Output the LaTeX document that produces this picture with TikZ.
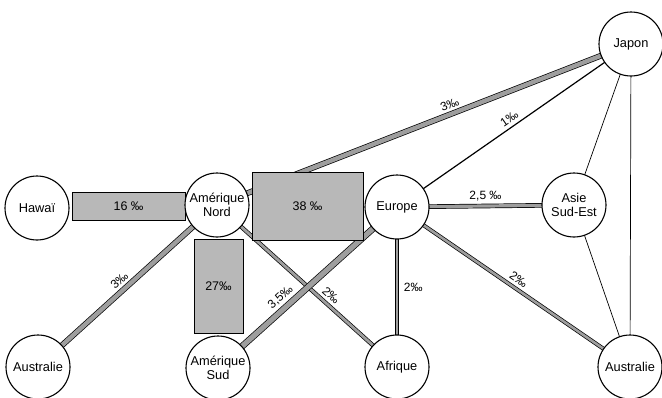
\documentclass[tikz,border=0pt]{standalone}
\usepackage{fontspec}
\setmainfont{Liberation Sans}
\begin{document}
\begin{tikzpicture}[x=1pt,y=1pt,
  region/.style={circle, draw=black, line width=1.1pt, fill=white, minimum size=64pt, inner sep=0pt, align=center, font=\fontsize{12.8}{14}\selectfont},
  band/.style={draw=black, line width=0.7pt, double=black!38, double distance=#1},
  flowbox/.style={draw=black, line width=0.7pt, fill=black!28, inner sep=0pt, font=\fontsize{12.5}{14}\selectfont},
  thinlink/.style={draw=black, line width=0.7pt},
  medlink/.style={draw=black, line width=1.2pt},
  lab/.style={font=\fontsize{12}{13}\selectfont, inner sep=1.5pt}]
\useasboundingbox (0,0) rectangle (662,-397);
\path (37,-208) coordinate (cH) (217,-205) coordinate (cAN) (397,-207) coordinate (cE)
      (574,-205) coordinate (cASE) (631,-44) coordinate (cJ) (38,-367) coordinate (cAUL)
      (218,-368) coordinate (cAS) (397,-367) coordinate (cAF) (630,-367) coordinate (cAUR);
% bands and lines
\draw[thinlink] (cJ) -- (cASE);
\draw[thinlink] (cJ) -- (cAUR);
\draw[thinlink] (cASE) -- (cAUR);
\draw[medlink] (cE) -- node[lab, sloped, above=2pt, pos=0.5] {1‰} (cJ);
\draw[band=4.4pt] (cAN) -- node[lab, sloped, above=3.5pt, pos=0.57] {3‰} (cJ);
\draw[band=3.2pt] (cE) -- node[lab, above=3pt, pos=0.5] {2,5 ‰} (cASE);
\draw[band=2.6pt] (cE) -- node[lab, right=5pt, pos=0.5] {2‰} (cAF);
\draw[band=2.6pt] (cE) -- node[lab, sloped, above=3pt, pos=0.5] {2‰} (cAUR);
\draw[band=4.4pt] (cAUL) -- node[lab, sloped, above=3.5pt, pos=0.49] {3‰} (cAN);
\draw[band=2.8pt] (cAN) -- node[lab, sloped, above=3pt, pos=0.6] {2‰} (cAF);
\draw[band=5.2pt] (cAS) -- node[lab, sloped, above=4pt, pos=0.39] {3,5‰} (cE);
% flow rectangles
\node[flowbox, minimum width=113pt, minimum height=28pt] (r16) at (128.5,-206) {16 ‰};
\node[flowbox, minimum width=111pt, minimum height=68pt] (r38) at (307.5,-206) {38 ‰};
\node[flowbox, minimum width=49pt, minimum height=94pt] (r27) at (218.5,-286) {27‰};
% regions
\node[region] (H) at (cH) {Hawaï};
\node[region] (AN) at (cAN) {Amérique\\Nord};
\node[region] (E) at (cE) {Europe};
\node[region] (ASE) at (cASE) {Asie\\Sud-Est};
\node[region] (J) at (cJ) {Japon};
\node[region] (AUL) at (cAUL) {Australie};
\node[region] (AS) at (cAS) {Amérique\\Sud};
\node[region] (AF) at (cAF) {Afrique};
\node[region] (AUR) at (cAUR) {Australie};
\end{tikzpicture}
\end{document}
